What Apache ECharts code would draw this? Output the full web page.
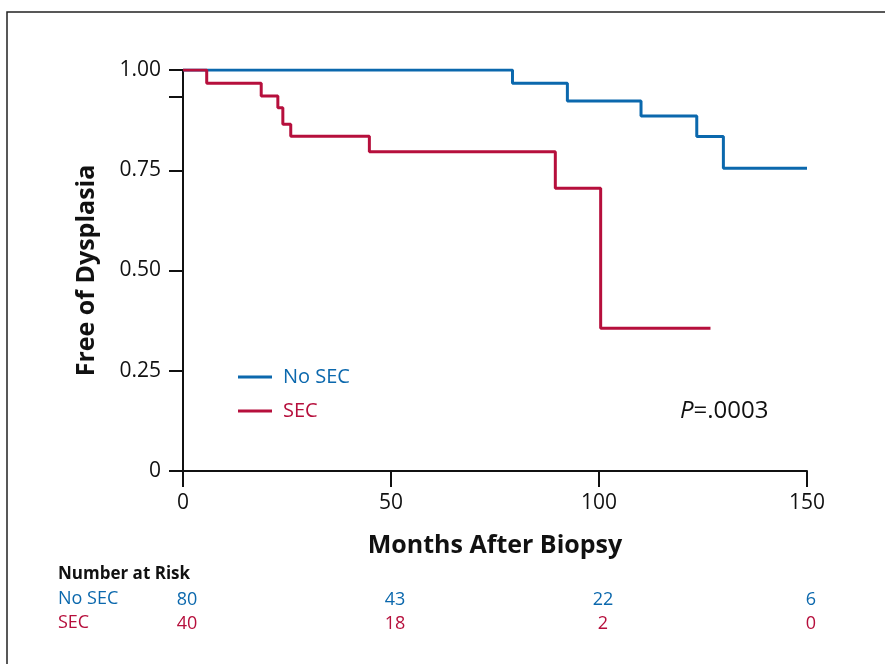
<!DOCTYPE html>
<html>
<head>
<meta charset="utf-8">
<script src="https://cdn.jsdelivr.net/npm/echarts@6/dist/echarts.min.js"></script>
<style>
html,body{margin:0;padding:0;background:#fff;}
#main{width:885px;height:664px;}
</style>
</head>
<body>
<div id="main"></div>
<script>
// Kaplan-Meier step data: [months, survival]
var noSecCurve = [[0,1.0],[79.2,0.967],[92.4,0.923],[110.1,0.885],[123.5,0.834],[129.9,0.755],[150,0.755]];
var secCurve = [[0,1.0],[5.7,0.967],[18.8,0.935],[22.8,0.906],[24.0,0.865],[25.9,0.835],[44.8,0.796],[89.5,0.705],[100.4,0.356],[126.8,0.356]];
var riskTimes = [0,50,100,150];
var riskNoSec = [80,43,22,6];
var riskSec = [40,18,2,0];
var yTickValues = [0,0.25,0.5,0.75,0.933,1];
var yLabelValues = [0,0.25,0.5,0.75,1];
var seriesNames = ['No SEC','SEC'];
var BLUE = '#0b68ad', RED = '#b60f3c';
var FONT = 'Open Sans';

var riskData = [];
riskTimes.forEach(function(t,i){
  riskData.push([t,'No SEC',riskNoSec[i]]);
  riskData.push([t,'SEC',riskSec[i]]);
});

var chart = echarts.init(document.getElementById('main'));
chart.setOption({
  backgroundColor:'#fff',
  animation:false,
  textStyle:{fontFamily:FONT},
  grid:[
    {left:183,right:78,top:70,height:401},
    {left:183,right:78,top:588,height:48}
  ],
  xAxis:[
    {type:'value',gridIndex:0,min:0,max:150,interval:50,
     axisLine:{show:true,lineStyle:{color:'#111',width:2}},
     axisTick:{show:true,inside:false,length:16,lineStyle:{color:'#111',width:2}},
     axisLabel:{color:'#111',fontSize:21,margin:22,fontFamily:FONT},
     splitLine:{show:false},
     name:'Months After Biopsy',nameLocation:'middle',nameGap:62,
     nameTextStyle:{color:'#111',fontSize:25,fontWeight:'bold',fontFamily:FONT}},
    {type:'value',gridIndex:1,min:0,max:150,show:false}
  ],
  yAxis:[
    {type:'value',gridIndex:0,min:0,max:1,
     axisLine:{show:true,lineStyle:{color:'#111',width:2}},
     axisTick:{show:true,length:14,customValues:yTickValues,lineStyle:{color:'#111',width:2}},
     axisLabel:{color:'#111',fontSize:21,margin:22,fontFamily:FONT,customValues:yLabelValues,
       formatter:function(v){return v===0?'0':v.toFixed(2);}},
     splitLine:{show:false},
     name:'Free of Dysplasia',nameLocation:'middle',nameGap:84,
     nameTextStyle:{color:'#111',fontSize:25,fontWeight:'bold',fontFamily:FONT}},
    {type:'category',gridIndex:1,data:['SEC','No SEC'],show:false}
  ],
  legend:{
    orient:'vertical',left:238,top:367,padding:0,
    icon:'rect',itemWidth:34,itemHeight:3,itemGap:14,
    textStyle:{fontSize:20,fontFamily:FONT,padding:[0,0,0,6]},
    data:[
      {name:seriesNames[0],textStyle:{color:BLUE}},
      {name:seriesNames[1],textStyle:{color:RED}}
    ]
  },
  title:{
    text:'{i|P}=.0003',left:680,top:399,padding:0,
    textStyle:{rich:{i:{fontStyle:'italic',fontSize:24,color:'#111',fontFamily:FONT}},fontSize:24,color:'#111',fontWeight:'normal',fontFamily:FONT}
  },
  graphic:[
    {type:'rect',shape:{x:7,y:12,width:900,height:700},style:{fill:'none',stroke:'#222',lineWidth:1.5},silent:true},
    {type:'text',left:58,top:566,style:{text:'Number at Risk',fontSize:17,fontWeight:'bold',fill:'#111',fontFamily:FONT}},
    {type:'text',left:58,top:590,style:{text:'No SEC',fontSize:18,fill:BLUE,fontFamily:FONT}},
    {type:'text',left:58,top:614,style:{text:'SEC',fontSize:18,fill:RED,fontFamily:FONT}}
  ],
  series:[
    {name:seriesNames[0],type:'line',step:'end',showSymbol:false,xAxisIndex:0,yAxisIndex:0,
     data:noSecCurve,lineStyle:{color:BLUE,width:3},itemStyle:{color:BLUE}},
    {name:seriesNames[1],type:'line',step:'end',showSymbol:false,xAxisIndex:0,yAxisIndex:0,
     data:secCurve,lineStyle:{color:RED,width:3},itemStyle:{color:RED}},
    {type:'scatter',xAxisIndex:1,yAxisIndex:1,symbolSize:0,data:riskData,silent:true,
     itemStyle:{opacity:1},
     label:{show:true,position:'inside',offset:[4,0],fontSize:18,fontFamily:FONT,opacity:1,
       formatter:function(p){return (p.value[1]==='No SEC'?'{b|':'{r|')+p.value[2]+'}';},
       rich:{b:{color:BLUE,fontSize:18,fontFamily:FONT},r:{color:RED,fontSize:18,fontFamily:FONT}}}
    }
  ]
});
</script>
</body>
</html>
